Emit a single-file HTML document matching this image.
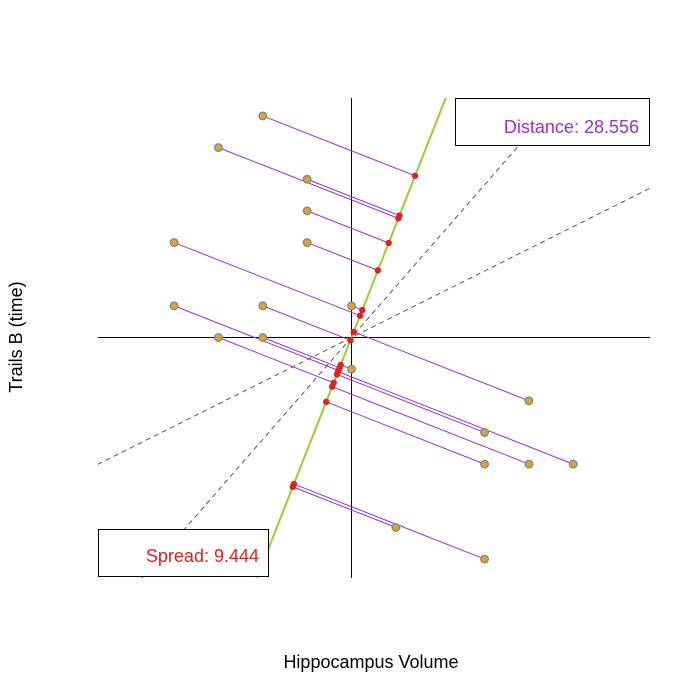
<!DOCTYPE html>
<html><head><meta charset="utf-8"><style>
html,body{margin:0;background:#fff;width:700px;height:700px;overflow:hidden;}
svg{display:block;font-family:"Liberation Sans",Arial,sans-serif;}
</style></head><body>
<svg id="chart" width="700" height="700" viewBox="0 0 700 700">
<defs><clipPath id="plot"><rect x="98" y="98" width="552" height="480"/></clipPath></defs>
<g id="dashes" clip-path="url(#plot)"></g>
<line x1="98" y1="337.5" x2="650" y2="337.5" stroke="#000" stroke-width="1"/>
<line x1="351.5" y1="98" x2="351.5" y2="578" stroke="#000" stroke-width="1"/>
<g id="marks" clip-path="url(#plot)"></g>
<g>
<rect x="455.5" y="98.5" width="194" height="47" fill="#fff" stroke="#000"/>
<text x="639" y="133" text-anchor="end" font-size="18" fill="#9932CC">Distance: 28.556</text>
</g>
<g>
<rect x="98.5" y="529.5" width="170" height="47" fill="#fff" stroke="#000"/>
<text x="259" y="562" text-anchor="end" font-size="18" fill="#DD2222">Spread: 9.444</text>
</g>
<text x="371" y="668" text-anchor="middle" font-size="18">Hippocampus Volume</text>
<text transform="translate(22,337) rotate(-90)" text-anchor="middle" font-size="18">Trails B (time)</text>
</svg>
<script>
const xValues=[-2,-3,-1,-1,-4,-1,-4,-2,0,-3,-2,0,4,3,3,4,5,1,3];
const yValues=[7,6,5,4,3,3,1,1,1,0,0,-1,-2,-3,-4,-4,-4,-6,-7];
const cx=351.5,cy=337.5,sx=44.35,sy=31.65;
function X(v){return cx+v*sx;}
function Y(v){return cy-v*sy;}
const NS="http://www.w3.org/2000/svg";
function mk(tag,attrs,parent){const e=document.createElementNS(NS,tag);for(const k in attrs)e.setAttribute(k,attrs[k]);parent.appendChild(e);return e;}
const dg=document.getElementById('dashes'),mg=document.getElementById('marks');
let d1=mk('line',{x1:cx-254,y1:cy+127,x2:cx+299,y2:cy-149.5,stroke:'#555','stroke-dasharray':'5,4','stroke-width':1},dg);


let d2=mk('line',{x1:cx-210,y1:cy+241,x2:cx+210,y2:cy-241,stroke:'#555','stroke-dasharray':'5,4','stroke-width':1},dg);


let ux=94,uy=-239;const L=Math.hypot(ux,uy);ux/=L;uy/=L;
let gl=mk('line',{x1:cx-ux*262,y1:cy-uy*262,x2:cx+ux*258,y2:cy+uy*258,stroke:'#9ACD32','stroke-width':2},mg);


const proj=[];
for(let i=0;i<xValues.length;i++){
 const px=X(xValues[i]),py=Y(yValues[i]);
 const t=(px-cx)*ux+(py-cy)*uy;
 const qx=cx+t*ux,qy=cy+t*uy;proj.push([qx,qy]);
 let s=mk('line',{x1:px,y1:py,x2:qx,y2:qy,stroke:'#9932CC','stroke-width':1},mg);
 
 
}
proj.forEach(p=>{
 let r=mk('circle',{cx:p[0],cy:p[1],r:3.2,fill:'#DD2222'},mg);
 
 
});
for(let i=0;i<xValues.length;i++){
 let c=mk('circle',{cx:X(xValues[i]),cy:Y(yValues[i]),r:3.8,fill:'#E8A020',stroke:'#5F8FA8','stroke-width':1.3},mg);
 
 
}
</script>
</body></html>
